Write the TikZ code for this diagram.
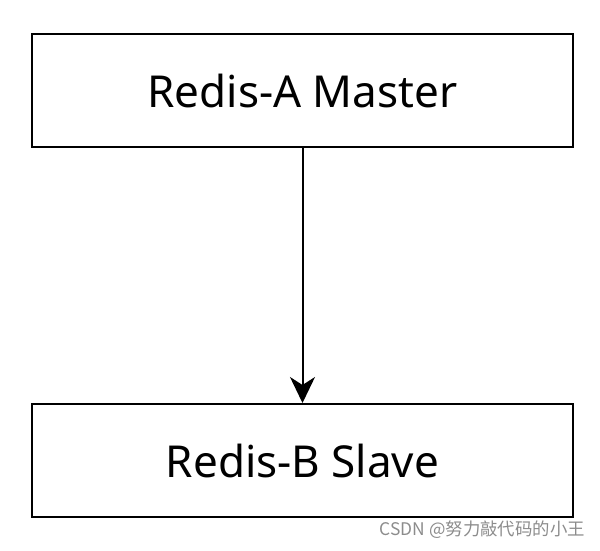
\documentclass[tikz,border=0pt]{standalone}
\usepackage{fontspec}
\setmainfont{Noto Sans}
\newfontfamily\cjk{Noto Sans CJK SC}
\usetikzlibrary{arrows.meta}
\begin{document}
\begin{tikzpicture}[x=1pt,y=-1pt,
  boxstyle/.style={draw=black,line width=2pt,minimum width=541pt,minimum height=113pt,inner sep=0pt,font=\fontsize{44}{52}\selectfont},
  linkstyle/.style={line width=2pt,-{Stealth[length=26pt,width=25pt,inset=8pt]}}]
\useasboundingbox (0,0) rectangle (600,550);
\node[boxstyle] (a) at (302.5,90.5) {Redis-A Master};
\node[boxstyle] (b) at (302.5,460.5) {Redis-B Slave};
\draw[linkstyle] (a) -- (b);
\node[anchor=east,text=black!45,inner sep=0pt,font=\cjk\fontsize{17.4}{20}\selectfont] (w) at (585,530) {CSDN @努力敲代码的小王};
\end{tikzpicture}
\end{document}
